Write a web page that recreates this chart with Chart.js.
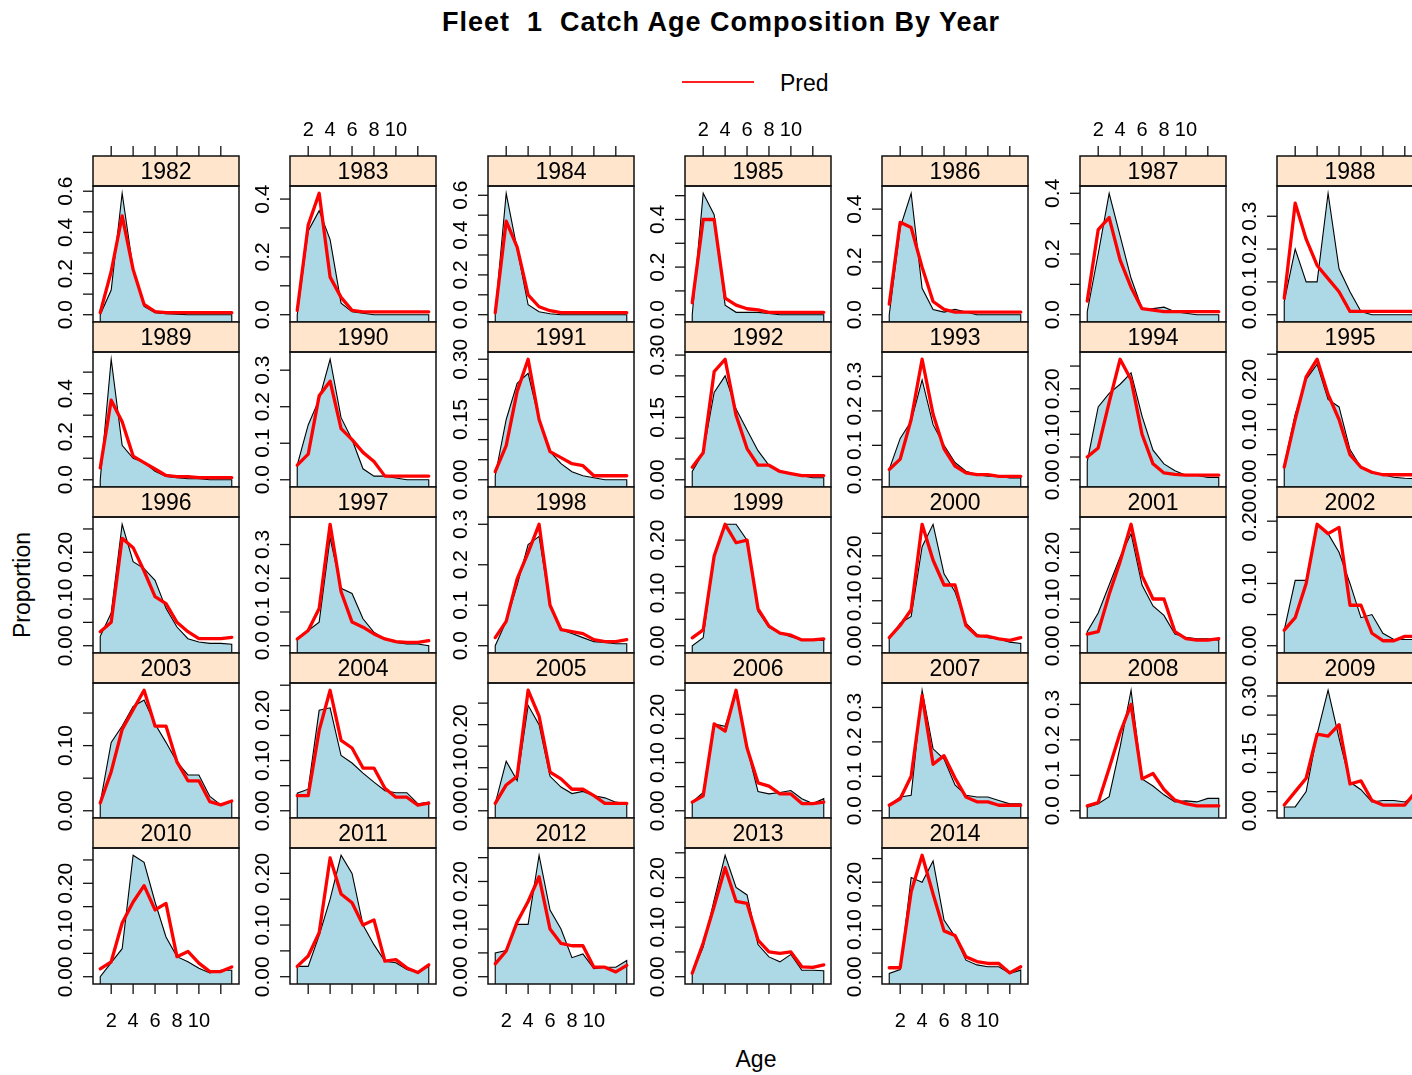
<!DOCTYPE html>
<html>
<head>
<meta charset="utf-8">
<script src="https://cdn.jsdelivr.net/npm/chart.js@4.4.0/dist/chart.umd.min.js"></script>
<style>
html, body { margin: 0; padding: 0; background: #fff; overflow: hidden; }
body { width: 1412px; height: 1075px; position: relative; font-family: "Liberation Sans", Arial, sans-serif; color: #000; }
canvas.panel { position: absolute; }
#title { position: absolute; left: 371px; width: 700px; top: 7px; text-align: center; font-weight: bold; font-size: 27px; letter-spacing: 1px; white-space: pre; }
#legLine { position: absolute; left: 682px; top: 81px; width: 72px; height: 2px; background: #ff2020; }
#legText { position: absolute; left: 780px; top: 70px; font-size: 23px; }
#ylab { position: absolute; left: 22px; top: 585px; font-size: 23px; transform: translate(-50%, -50%) rotate(-90deg); white-space: nowrap; }
#xlab { position: absolute; left: 756px; top: 1059px; font-size: 23px; transform: translate(-50%, -50%); }
</style>
</head>
<body>
<div id="title">Fleet  1  Catch Age Composition By Year</div>
<div id="legLine"></div>
<div id="legText">Pred</div>
<div id="ylab">Proportion</div>
<div id="xlab">Age</div>

<script>
// ===== DATA =====
const years = [1982, 1983, 1984, 1985, 1986, 1987, 1988,
               1989, 1990, 1991, 1992, 1993, 1994, 1995,
               1996, 1997, 1998, 1999, 2000, 2001, 2002,
               2003, 2004, 2005, 2006, 2007, 2008, 2009,
               2010, 2011, 2012, 2013, 2014];

const ages = [1, 2, 3, 4, 5, 6, 7, 8, 9, 10, 11, 12, 13];

// observed proportions (blue area + black line), one row per year
const observed = [
    [0.0, 0.12, 0.59, 0.22, 0.04, 0.01, 0.005, 0.003, 0, 0, 0, 0, 0],
    [0, 0.29, 0.36, 0.26, 0.04, 0.01, 0.005, 0, 0, 0, 0, 0, 0],
    [0.01, 0.61, 0.33, 0.05, 0.015, 0.005, 0, 0, 0, 0, 0, 0, 0],
    [0.0, 0.51, 0.42, 0.04, 0.01, 0.01, 0.01, 0.005, 0, 0, 0, 0, 0],
    [0.0, 0.33, 0.46, 0.1, 0.02, 0.01, 0.02, 0.01, 0, 0, 0, 0, 0],
    [0.01, 0.2, 0.4, 0.26, 0.12, 0.02, 0.02, 0.025, 0.01, 0.005, 0, 0, 0],
    [0.04, 0.2, 0.1, 0.1, 0.37, 0.14, 0.07, 0.01, 0, 0, 0, 0, 0],
    [0.0, 0.56, 0.16, 0.1, 0.08, 0.04, 0.015, 0.01, 0.005, 0.005, 0, 0, 0],
    [0.04, 0.15, 0.22, 0.33, 0.17, 0.11, 0.03, 0.01, 0.01, 0.005, 0, 0, 0],
    [0.01, 0.15, 0.24, 0.265, 0.15, 0.07, 0.04, 0.02, 0.01, 0.005, 0, 0, 0],
    [0.02, 0.065, 0.21, 0.25, 0.17, 0.12, 0.07, 0.035, 0.02, 0.015, 0.01, 0.005, 0.005],
    [0.03, 0.12, 0.17, 0.29, 0.16, 0.1, 0.05, 0.025, 0.015, 0.01, 0.01, 0.005, 0.005],
    [0.04, 0.16, 0.19, 0.21, 0.235, 0.14, 0.065, 0.035, 0.02, 0.01, 0.01, 0.005, 0.005],
    [0.03, 0.13, 0.2, 0.23, 0.16, 0.145, 0.06, 0.025, 0.013, 0.01, 0.005, 0.003, 0.002],
    [0.02, 0.07, 0.26, 0.18, 0.165, 0.14, 0.08, 0.04, 0.015, 0.008, 0.005, 0.005, 0.003],
    [0.02, 0.045, 0.07, 0.32, 0.17, 0.155, 0.08, 0.04, 0.02, 0.01, 0.005, 0.005, 0.0],
    [0.0, 0.06, 0.15, 0.25, 0.27, 0.1, 0.04, 0.03, 0.02, 0.01, 0.008, 0.005, 0.005],
    [0.0, 0.015, 0.17, 0.23, 0.23, 0.2, 0.065, 0.035, 0.024, 0.017, 0.011, 0.01, 0.01],
    [0.015, 0.05, 0.065, 0.22, 0.27, 0.16, 0.12, 0.05, 0.025, 0.018, 0.015, 0.008, 0.005],
    [0.03, 0.07, 0.13, 0.19, 0.24, 0.13, 0.085, 0.065, 0.025, 0.018, 0.015, 0.015, 0.012],
    [0.025, 0.105, 0.105, 0.195, 0.18, 0.15, 0.1, 0.045, 0.05, 0.02, 0.01, 0.01, 0.01],
    [0.012, 0.105, 0.13, 0.16, 0.17, 0.133, 0.105, 0.075, 0.055, 0.055, 0.022, 0.009, 0.014],
    [0.035, 0.043, 0.2, 0.205, 0.11, 0.095, 0.075, 0.057, 0.04, 0.036, 0.036, 0.014, 0.017],
    [0.017, 0.115, 0.07, 0.245, 0.2, 0.08, 0.055, 0.04, 0.045, 0.035, 0.03, 0.02, 0.016],
    [0.018, 0.038, 0.18, 0.175, 0.245, 0.13, 0.04, 0.035, 0.038, 0.042, 0.025, 0.015, 0.025],
    [0.016, 0.04, 0.045, 0.35, 0.18, 0.15, 0.075, 0.045, 0.04, 0.04, 0.03, 0.02, 0.02],
    [0.01, 0.02, 0.04, 0.18, 0.34, 0.09, 0.07, 0.045, 0.025, 0.028, 0.025, 0.035, 0.035],
    [0.01, 0.01, 0.05, 0.2, 0.315, 0.19, 0.075, 0.055, 0.023, 0.027, 0.027, 0.023, 0.04],
    [0.0, 0.03, 0.06, 0.26, 0.245, 0.16, 0.085, 0.043, 0.032, 0.018, 0.008, 0.014, 0.014],
    [0.02, 0.02, 0.08, 0.15, 0.235, 0.2, 0.1, 0.062, 0.03, 0.027, 0.014, 0.008, 0.02],
    [0.05, 0.055, 0.11, 0.11, 0.255, 0.14, 0.1, 0.04, 0.048, 0.017, 0.02, 0.02, 0.034],
    [0.007, 0.06, 0.155, 0.245, 0.18, 0.165, 0.065, 0.04, 0.03, 0.045, 0.013, 0.013, 0.012],
    [0.007, 0.015, 0.21, 0.2, 0.245, 0.12, 0.085, 0.035, 0.025, 0.021, 0.021, 0.007, 0.014]
];

// predicted proportions (red line)
const predicted = [
    [0.01, 0.21, 0.48, 0.22, 0.05, 0.015, 0.01, 0.01, 0.01, 0.01, 0.01, 0.01, 0.01],
    [0.015, 0.31, 0.42, 0.13, 0.06, 0.015, 0.01, 0.01, 0.01, 0.01, 0.01, 0.01, 0.01],
    [0.01, 0.47, 0.34, 0.1, 0.04, 0.02, 0.01, 0.01, 0.01, 0.01, 0.01, 0.01, 0.01],
    [0.05, 0.4, 0.4, 0.07, 0.04, 0.025, 0.02, 0.01, 0.01, 0.01, 0.01, 0.01, 0.01],
    [0.04, 0.35, 0.33, 0.18, 0.05, 0.02, 0.01, 0.01, 0.01, 0.01, 0.01, 0.01, 0.01],
    [0.045, 0.28, 0.32, 0.18, 0.09, 0.02, 0.015, 0.01, 0.01, 0.01, 0.01, 0.01, 0.01],
    [0.05, 0.34, 0.23, 0.15, 0.11, 0.07, 0.01, 0.01, 0.01, 0.01, 0.01, 0.01, 0.01],
    [0.055, 0.37, 0.27, 0.11, 0.08, 0.05, 0.02, 0.015, 0.015, 0.01, 0.01, 0.01, 0.01],
    [0.04, 0.07, 0.23, 0.27, 0.14, 0.11, 0.075, 0.05, 0.01, 0.01, 0.01, 0.01, 0.01],
    [0.02, 0.085, 0.22, 0.3, 0.15, 0.07, 0.055, 0.04, 0.035, 0.01, 0.01, 0.01, 0.01],
    [0.03, 0.065, 0.26, 0.29, 0.155, 0.075, 0.035, 0.035, 0.02, 0.015, 0.01, 0.01, 0.01],
    [0.03, 0.06, 0.175, 0.35, 0.19, 0.09, 0.04, 0.02, 0.015, 0.015, 0.01, 0.01, 0.01],
    [0.05, 0.07, 0.17, 0.265, 0.22, 0.1, 0.035, 0.015, 0.012, 0.01, 0.01, 0.01, 0.01],
    [0.025, 0.12, 0.205, 0.24, 0.17, 0.12, 0.05, 0.025, 0.015, 0.01, 0.01, 0.01, 0.01],
    [0.03, 0.05, 0.23, 0.21, 0.16, 0.105, 0.09, 0.05, 0.03, 0.015, 0.015, 0.015, 0.018],
    [0.02, 0.045, 0.11, 0.36, 0.16, 0.07, 0.055, 0.035, 0.02, 0.012, 0.01, 0.01, 0.015],
    [0.02, 0.06, 0.165, 0.23, 0.3, 0.1, 0.04, 0.035, 0.03, 0.015, 0.01, 0.01, 0.015],
    [0.015, 0.03, 0.17, 0.23, 0.195, 0.2, 0.07, 0.037, 0.024, 0.02, 0.011, 0.011, 0.013],
    [0.018, 0.045, 0.08, 0.27, 0.19, 0.135, 0.135, 0.045, 0.022, 0.021, 0.015, 0.012, 0.018],
    [0.025, 0.03, 0.11, 0.18, 0.26, 0.15, 0.1, 0.1, 0.03, 0.015, 0.012, 0.012, 0.015],
    [0.025, 0.045, 0.1, 0.195, 0.18, 0.19, 0.065, 0.065, 0.02, 0.008, 0.008, 0.015, 0.015],
    [0.012, 0.06, 0.125, 0.155, 0.185, 0.13, 0.13, 0.075, 0.046, 0.046, 0.014, 0.009, 0.015],
    [0.03, 0.03, 0.16, 0.24, 0.14, 0.125, 0.085, 0.085, 0.045, 0.027, 0.027, 0.011, 0.015],
    [0.017, 0.06, 0.08, 0.28, 0.22, 0.09, 0.074, 0.05, 0.05, 0.035, 0.017, 0.017, 0.017],
    [0.018, 0.031, 0.18, 0.165, 0.25, 0.13, 0.058, 0.051, 0.035, 0.035, 0.015, 0.015, 0.018],
    [0.016, 0.035, 0.1, 0.335, 0.135, 0.16, 0.095, 0.04, 0.026, 0.026, 0.016, 0.016, 0.016],
    [0.014, 0.023, 0.12, 0.22, 0.3, 0.09, 0.105, 0.06, 0.03, 0.02, 0.014, 0.014, 0.014],
    [0.015, 0.05, 0.085, 0.2, 0.195, 0.225, 0.07, 0.078, 0.027, 0.015, 0.015, 0.015, 0.05],
    [0.017, 0.032, 0.115, 0.16, 0.195, 0.143, 0.157, 0.043, 0.054, 0.029, 0.011, 0.011, 0.021],
    [0.02, 0.04, 0.085, 0.23, 0.16, 0.143, 0.1, 0.11, 0.03, 0.033, 0.017, 0.008, 0.023],
    [0.027, 0.054, 0.115, 0.158, 0.21, 0.1, 0.07, 0.065, 0.065, 0.02, 0.02, 0.01, 0.024],
    [0.007, 0.068, 0.142, 0.22, 0.152, 0.148, 0.074, 0.05, 0.047, 0.05, 0.02, 0.019, 0.024],
    [0.019, 0.019, 0.18, 0.257, 0.175, 0.097, 0.087, 0.042, 0.032, 0.028, 0.028, 0.008, 0.021]
];

// y tick spacing and label spacing for each panel (free scales)
const yTickStep = [0.1, 0.1, 0.1, 0.1, 0.1, 0.1, 0.1,
                   0.1, 0.1, 0.05, 0.05, 0.1, 0.05, 0.05,
                   0.05, 0.1, 0.1, 0.05, 0.05, 0.05, 0.05,
                   0.05, 0.05, 0.05, 0.05, 0.1, 0.1, 0.05,
                   0.05, 0.05, 0.05, 0.05, 0.05];
const yLabelStep = [0.2, 0.2, 0.2, 0.2, 0.2, 0.2, 0.1,
                    0.2, 0.1, 0.15, 0.15, 0.1, 0.1, 0.1,
                    0.1, 0.1, 0.1, 0.1, 0.1, 0.1, 0.1,
                    0.1, 0.1, 0.1, 0.1, 0.1, 0.1, 0.15,
                    0.1, 0.1, 0.1, 0.1, 0.1];

const xTicks = [2, 4, 6, 8, 10, 12];
const xTickLabels = ['2', '4', '6', '8', '10', ''];

// ===== LAYOUT =====
const NCOL = 7;
const PANEL_W = 146;
const STRIP_H = 30;
const M_LEFT = 60, M_RIGHT = 4, M_TOP = 45, M_BOTTOM = 50;
const FONT = '"Liberation Sans", Arial, sans-serif';

function colLeft(c) { return Math.round(93 + 197.3 * c); }
function rowTop(r) { return Math.round(156 + 165.6 * r); }

// ===== STRIP / AXES PLUGIN =====
const panelDeco = {
    id: 'panelDeco',
    afterDraw(chart, args, o) {
        const { ctx, chartArea: a } = chart;
        const x = chart.scales.x, y = chart.scales.y;
        const sTop = a.top - STRIP_H;
        ctx.save();

        // strip
        ctx.fillStyle = '#FFE5CC';
        ctx.fillRect(a.left, sTop, a.right - a.left, STRIP_H);
        ctx.strokeStyle = '#111';
        ctx.lineWidth = 1.5;
        ctx.strokeRect(a.left, sTop, a.right - a.left, STRIP_H);
        ctx.fillStyle = '#000';
        ctx.font = '23px ' + FONT;
        ctx.textAlign = 'center';
        ctx.textBaseline = 'alphabetic';
        ctx.fillText(String(o.year), (a.left + a.right) / 2, sTop + 23);

        // panel border
        ctx.strokeRect(a.left, a.top, a.right - a.left, a.bottom - a.top);

        // y ticks, rotated labels on the left
        ctx.lineWidth = 1.3;
        ctx.font = '21px ' + FONT;
        const dec = o.tickStep < 0.1 ? 2 : 1;
        const every = Math.round(o.labelStep / o.tickStep);
        for (let i = 0; i * o.tickStep <= y.max + 1e-9; i++) {
            const v = i * o.tickStep;
            if (v < y.min) continue;
            const py = y.getPixelForValue(v);
            ctx.beginPath();
            ctx.moveTo(a.left - 10, py);
            ctx.lineTo(a.left, py);
            ctx.stroke();
            if (i % every === 0) {
                ctx.save();
                ctx.translate(a.left - 21, py);
                ctx.rotate(-Math.PI / 2);
                ctx.textAlign = 'center';
                ctx.fillText(v.toFixed(dec), 0, 0);
                ctx.restore();
            }
        }

        // x ticks on top row (above strip) and bottom row
        ctx.font = '20px ' + FONT;
        xTicks.forEach((t, k) => {
            const px = x.getPixelForValue(t);
            if (o.top) {
                ctx.beginPath();
                ctx.moveTo(px, sTop);
                ctx.lineTo(px, sTop - 10);
                ctx.stroke();
                if (o.col % 2 === 1) ctx.fillText(xTickLabels[k], px, sTop - 20);
            }
            if (o.bottom) {
                ctx.beginPath();
                ctx.moveTo(px, a.bottom);
                ctx.lineTo(px, a.bottom + 10);
                ctx.stroke();
                if (o.col % 2 === 0) ctx.fillText(xTickLabels[k], px, a.bottom + 43);
            }
        });
        ctx.restore();
    }
};

// ===== BUILD PANELS =====
const lastRow = Math.floor((years.length - 1) / NCOL);

years.forEach((yr, i) => {
    const row = Math.floor(i / NCOL), col = i % NCOL;
    const L = colLeft(col), sTop = rowTop(row), pBot = rowTop(row + 1);
    const plotH = pBot - sTop - STRIP_H;

    const cv = document.createElement('canvas');
    cv.className = 'panel';
    cv.width = M_LEFT + PANEL_W + M_RIGHT;
    cv.height = M_TOP + STRIP_H + plotH + M_BOTTOM;
    cv.style.left = (L - M_LEFT) + 'px';
    cv.style.top = (sTop - M_TOP) + 'px';
    document.body.appendChild(cv);

    const obs = observed[i], pred = predicted[i];
    const all = obs.concat(pred);
    const lo0 = Math.min(0, Math.min(...all)), hi0 = Math.max(...all);
    const pad = 0.06 * (hi0 - lo0);
    const yMin = lo0 - pad, yMax = hi0 + pad;
    const xPad = 0.055 * (ages[ages.length - 1] - ages[0]);

    const obsPts = [{ x: ages[0], y: yMin }]
        .concat(obs.map((v, k) => ({ x: ages[k], y: v })))
        .concat([{ x: ages[ages.length - 1], y: yMin }]);

    new Chart(cv, {
        type: 'line',
        data: {
            datasets: [{
                label: 'Pred',
                data: pred.map((v, k) => ({ x: ages[k], y: v })),
                borderColor: '#ff0000',
                borderWidth: 3.3,
                borderJoinStyle: 'round',
                borderCapStyle: 'round',
                pointRadius: 0,
                fill: false,
                tension: 0,
                order: 0
            }, {
                label: 'Obs',
                data: obsPts,
                borderColor: '#000',
                borderWidth: 1.1,
                backgroundColor: '#ADD8E6',
                fill: 'start',
                pointRadius: 0,
                tension: 0,
                order: 1
            }]
        },
        options: {
            responsive: false,
            animation: false,
            devicePixelRatio: 1,
            events: [],
            layout: { padding: { left: M_LEFT, right: M_RIGHT, top: M_TOP + STRIP_H, bottom: M_BOTTOM } },
            scales: {
                x: { type: 'linear', min: ages[0] - xPad, max: ages[ages.length - 1] + xPad, display: false },
                y: { type: 'linear', min: yMin, max: yMax, display: false }
            },
            plugins: {
                legend: { display: false },
                tooltip: { enabled: false },
                panelDeco: {
                    year: yr, col: col,
                    top: row === 0,
                    bottom: row === lastRow,
                    tickStep: yTickStep[i],
                    labelStep: yLabelStep[i]
                }
            }
        },
        plugins: [panelDeco]
    });
});
</script>
</body>
</html>
